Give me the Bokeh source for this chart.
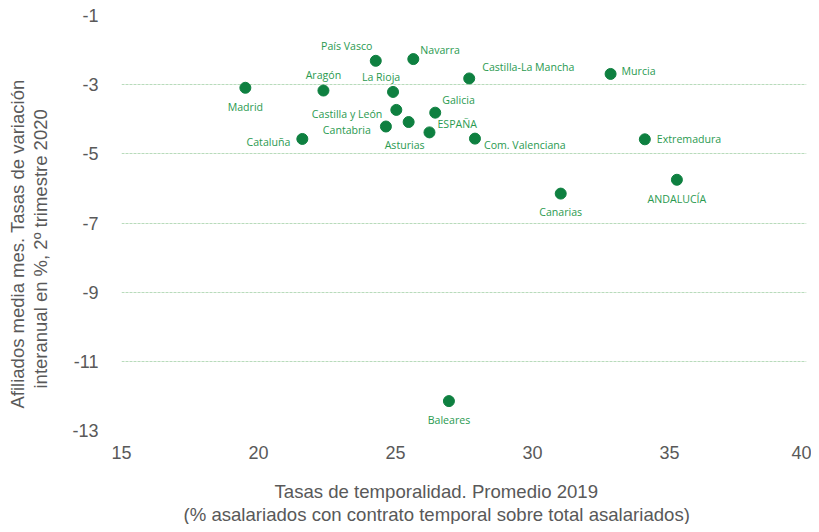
from bokeh.plotting import figure
from bokeh.models import FixedTicker, Label, ColumnDataSource, Title
from bokeh.embed import file_html
from bokeh.resources import INLINE

regions = ["País Vasco", "Navarra", "Castilla-La Mancha", "Madrid", "Aragón", "La Rioja",
           "Castilla y León", "Galicia", "Asturias", "Cantabria", "ESPAÑA", "Cataluña",
           "Com. Valenciana", "Murcia", "Extremadura", "Canarias", "ANDALUCÍA", "Baleares"]
temporalidad = [24.28, 25.65, 27.69, 19.52, 22.37, 24.91,
                25.03, 26.45, 25.48, 24.65, 26.24, 21.6,
                27.9, 32.85, 34.1, 31.03, 35.27, 26.95]
afiliados = [-2.31, -2.26, -2.82, -3.09, -3.17, -3.21,
             -3.73, -3.81, -4.08, -4.21, -4.38, -4.57,
             -4.56, -2.69, -4.58, -6.15, -5.75, -12.15]
x_ticks = [15, 20, 25, 30, 35, 40]
y_ticks = [-1, -3, -5, -7, -9, -11, -13]
x_title = ["Tasas de temporalidad. Promedio 2019",
           "(% asalariados con contrato temporal sobre total asalariados)"]
y_title = ["Afiliados media mes. Tasas de variación",
           "interanual en %, 2º trimestre 2020"]

# label placement (layout only): dx, dy in screen px (dy positive = up), align
label_layout = {
    "País Vasco": (-29, 15, "center"),
    "Navarra": (7, 9, "left"),
    "Castilla-La Mancha": (13, 11, "left"),
    "Madrid": (0, -19, "center"),
    "Aragón": (0, 16, "center"),
    "La Rioja": (-12, 15, "center"),
    "Castilla y León": (-14, -4, "right"),
    "Galicia": (7, 13, "left"),
    "Asturias": (-4, -23, "center"),
    "Cantabria": (-15, -3, "right"),
    "ESPAÑA": (8, 8, "left"),
    "Cataluña": (-12, -3, "right"),
    "Com. Valenciana": (9, -6, "left"),
    "Murcia": (11, 3, "left"),
    "Extremadura": (12, 0, "left"),
    "Canarias": (0, -18, "center"),
    "ANDALUCÍA": (0, -19, "center"),
    "Baleares": (0, -19, "center"),
}

GREY = "#595959"
src = ColumnDataSource(dict(x=temporalidad, y=afiliados, name=regions))

p = figure(width=811, height=524, x_range=(15, 40), y_range=(-13, -1),
           output_backend="svg", toolbar_location=None,
           min_border_left=121, min_border_top=15, min_border_right=5, min_border_bottom=89)
p.outline_line_color = None
p.background_fill_color = "white"
p.border_fill_color = "white"

p.scatter("x", "y", source=src, size=11, fill_color="#0e8040", line_color="#0e8040")

for name, xv, yv in zip(regions, temporalidad, afiliados):
    dx, dy, align = label_layout[name]
    p.add_layout(Label(x=xv, y=yv, text=name, x_offset=dx, y_offset=dy,
                       text_align=align, text_baseline="middle",
                       text_font="Open Sans", text_font_size="10.6px",
                       text_color="#2a9a50"))

p.xgrid.grid_line_color = None
p.ygrid.grid_line_color = "#b8dbbb"
p.ygrid.grid_line_dash = "3 1"
p.ygrid.grid_line_width = 1
p.ygrid.ticker = FixedTicker(ticks=y_ticks)

for ax in (p.xaxis, p.yaxis):
    ax.axis_line_color = None
    ax.major_tick_line_color = None
    ax.minor_tick_line_color = None
    ax.major_label_text_font = "Liberation Sans"
    ax.major_label_text_font_size = "18px"
    ax.major_label_text_color = GREY
    # blank spacer label between tick labels and the titles
    ax.axis_label = " "
    ax.axis_label_text_font_size = "1px"

p.xaxis.ticker = FixedTicker(ticks=x_ticks)
p.yaxis.ticker = FixedTicker(ticks=y_ticks)
p.yaxis.major_label_overrides = {t: str(t) for t in y_ticks}
p.xaxis.major_label_standoff = 9
p.yaxis.major_label_standoff = 17
p.xaxis.axis_label_standoff = 13
p.yaxis.axis_label_standoff = 15

def mk_title(text, align, offset, size):
    return Title(text=text, align=align, offset=offset, text_font="Liberation Sans",
                 text_font_size=size, text_font_style="normal", text_color=GREY,
                 standoff=0)

p.add_layout(mk_title(x_title[0], "left", 153, "18.6px"), "below")
p.add_layout(mk_title(x_title[1], "left", 62, "18.6px"), "below")
p.add_layout(mk_title(y_title[1], "left", 42, "18.5px"), "left")
p.add_layout(mk_title(y_title[0], "left", 22, "18.5px"), "left")

open("out.html", "w").write(file_html(p, INLINE))
